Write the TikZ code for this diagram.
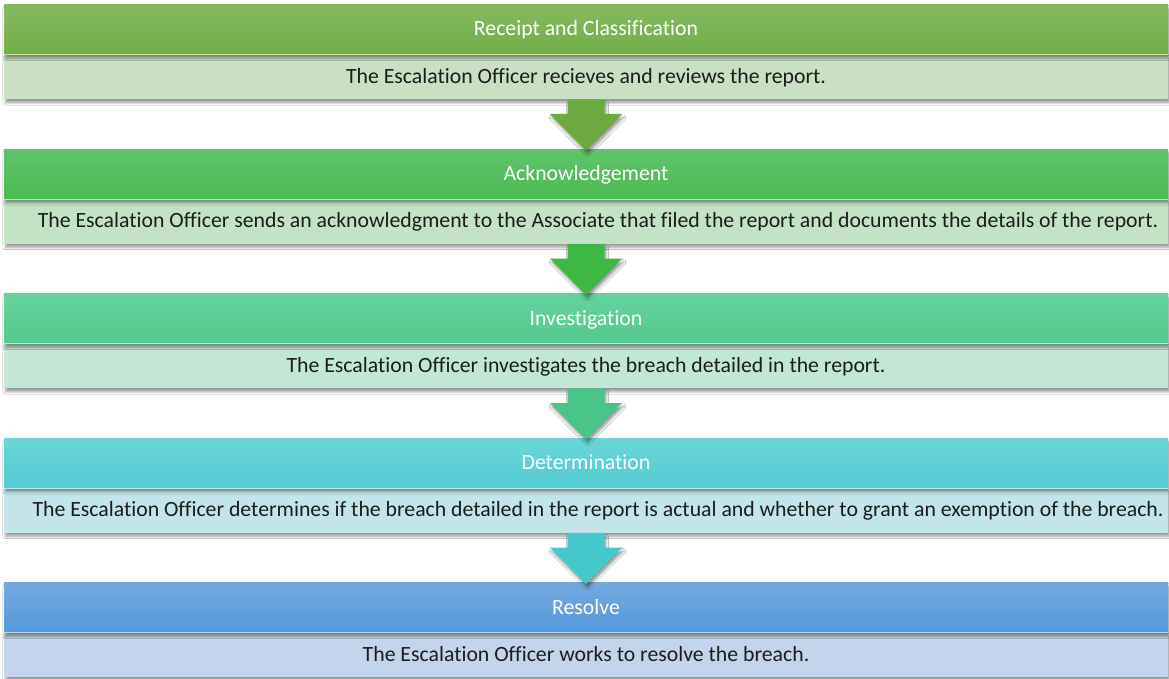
\documentclass[tikz,border=0pt]{standalone}
\usepackage{fontspec}
\setmainfont{Carlito}[Ligatures=CommonOff]
\usetikzlibrary{calc,shadows.blur}

% header gradients (top / bottom), body tints, arrow fills
\definecolor{hAtop}{HTML}{83BA60}\definecolor{hAbot}{HTML}{73AE47}\definecolor{bA}{HTML}{CBDFC4}
\definecolor{hBtop}{HTML}{60C36B}\definecolor{hBbot}{HTML}{4BBB50}\definecolor{bB}{HTML}{C4E3C6}
\definecolor{hCtop}{HTML}{65D29E}\definecolor{hCbot}{HTML}{55C98E}\definecolor{bC}{HTML}{C3E7D6}
\definecolor{hDtop}{HTML}{6BD5D5}\definecolor{hDbot}{HTML}{52CCD2}\definecolor{bD}{HTML}{C3E4E8}
\definecolor{hEtop}{HTML}{72A8DE}\definecolor{hEbot}{HTML}{5599DB}\definecolor{bE}{HTML}{C4D5EB}
\definecolor{aA}{HTML}{6BAA3F}\definecolor{aB}{HTML}{3DB843}
\definecolor{aC}{HTML}{4AC58A}\definecolor{aD}{HTML}{44C8CA}
\definecolor{bodytext}{HTML}{1C1C1C}

\tikzset{
  softshadow/.style={blur shadow={shadow xshift=1.5pt, shadow yshift=-3.5pt,
      shadow blur radius=2.5pt, shadow opacity=40}},
  barfont/.style={font=\fontsize{21.75}{26}\selectfont, text height=16.6pt, text depth=4pt},
  header/.style={rectangle, minimum width=1164pt, minimum height=50pt,
      inner sep=0pt, text=white, barfont, softshadow},
  bodybox/.style={rectangle, minimum width=1164pt, minimum height=44.5pt,
      inner sep=0pt, text=bodytext, barfont, softshadow},
  % full-width sentences sit a little to the right of centre
  padleft/.style={execute at begin node={\hspace*{24pt}}},
  flowarrow/.style={softshadow},
}

\begin{document}
\begin{tikzpicture}[x=1pt, y=-1pt]
\useasboundingbox (0,0) rectangle (1169,679);
\fill[white] (0,0) rectangle (1169,679);

% ---- stage blocks: header bar + description bar ----
\node[bodybox, fill=bA, anchor=north] (b1) at (586,54.5) {The Escalation Officer recieves and reviews the report.};
\node[header, top color=hAtop, bottom color=hAbot, anchor=north] (h1) at (586,4.5) {Receipt and Classification};

\node[bodybox, padleft, fill=bB, anchor=north] (b2) at (586,199) {The Escalation Officer sends an acknowledgment to the Associate that filed the report and documents the details of the report.};
\node[header, top color=hBtop, bottom color=hBbot, anchor=north] (h2) at (586,149) {Acknowledgement};

\node[bodybox, fill=bC, anchor=north] (b3) at (586,343.5) {The Escalation Officer investigates the breach detailed in the report.};
\node[header, top color=hCtop, bottom color=hCbot, anchor=north] (h3) at (586,293.5) {Investigation};

\node[bodybox, padleft, fill=bD, anchor=north] (b4) at (586,488) {The Escalation Officer determines if the breach detailed in the report is actual and whether to grant an exemption of the breach.};
\node[header, top color=hDtop, bottom color=hDbot, anchor=north] (h4) at (586,438) {Determination};

\node[bodybox, fill=bE, anchor=north] (b5) at (586,632.5) {The Escalation Officer works to resolve the breach.};
\node[header, top color=hEtop, bottom color=hEbot, anchor=north] (h5) at (586,582.5) {Resolve};

% thin light seam between header and description
\foreach \i in {1,...,5}{
  \draw[white, opacity=0.6, line width=0.8pt] (b\i.north west) -- (b\i.north east);
}

% ---- block arrows from each description bar to the next header ----
\foreach \from/\to/\col in {b1/h2/aA, b2/h3/aB, b3/h4/aC, b4/h5/aD}{
  \fill[flowarrow, \col]
    ($(\from.south)+(-18.5,0)$) -- ($(\from.south)+(18.5,0)$)
    -- ($(\to.north)+(18.5,-35)$) -- ($(\to.north)+(36,-35)$)
    -- ($(\to.north)+(0,1.5)$)
    -- ($(\to.north)+(-36,-35)$) -- ($(\to.north)+(-18.5,-35)$) -- cycle;
}
\end{tikzpicture}
\end{document}
